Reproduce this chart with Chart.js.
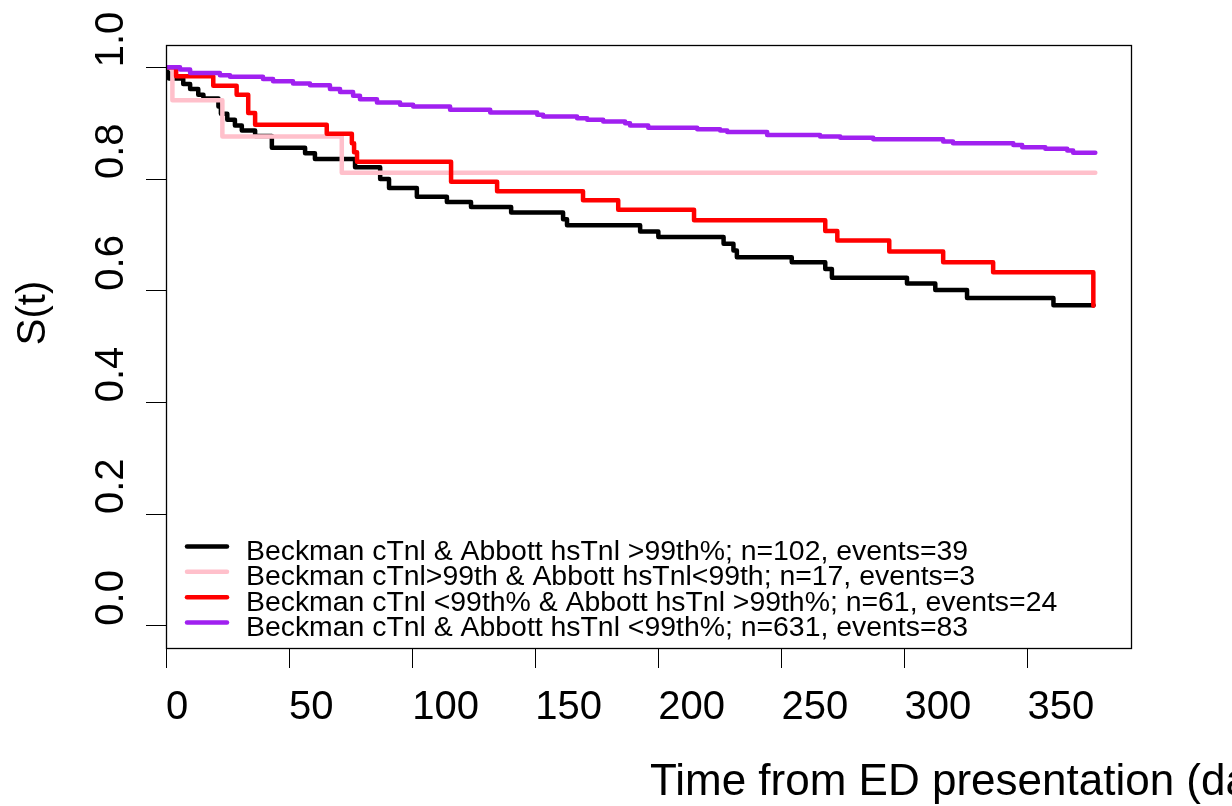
<!DOCTYPE html>
<html><head><meta charset="utf-8">
<script src="https://cdn.jsdelivr.net/npm/chart.js@4/dist/chart.umd.min.js"></script>
<style>html,body{margin:0;padding:0;background:#fff;overflow:hidden}canvas{display:block}</style>
</head><body>
<canvas id="c" width="1232" height="806"></canvas>
<script>
const FONT = '"Liberation Sans", Arial, Helvetica, sans-serif';

// Kaplan-Meier step data (time in days, survival S(t))
const blackT = [0, 0.5, 1.2, 7.0, 9.8, 13.1, 15.2, 21.3, 22.3, 24.9, 28.0, 30.8, 36.2, 43.0, 56.5, 60.5, 76.8, 87.0, 90.6, 101.9, 114.1, 123.9, 140.2, 161.3, 162.9, 192.6, 200.0, 226.5, 230.5, 231.9, 254.2, 267.8, 270.5, 301.0, 312.5, 325.4, 360.5, 376.8];
const blackS = [1.0, 0.990, 0.980, 0.970, 0.961, 0.951, 0.944, 0.930, 0.917, 0.906, 0.896, 0.887, 0.877, 0.856, 0.846, 0.836, 0.821, 0.800, 0.784, 0.768, 0.759, 0.750, 0.740, 0.728, 0.717, 0.706, 0.696, 0.684, 0.672, 0.660, 0.651, 0.639, 0.623, 0.613, 0.601, 0.587, 0.574, 0.574];

const pinkT = [0, 2.6, 22.9, 71.4, 377.5];
const pinkS = [1.0, 0.941, 0.876, 0.811, 0.811];

const redT = [0, 4.1, 19.2, 28.7, 33.4, 36.2, 65.3, 75.5, 76.4, 77.6, 115.8, 134.5, 169.4, 183.7, 214.5, 267.8, 272.7, 293.8, 315.7, 336.0, 376.7];
const redS = [1.0, 0.984, 0.967, 0.951, 0.918, 0.897, 0.881, 0.864, 0.848, 0.831, 0.795, 0.778, 0.762, 0.745, 0.726, 0.707, 0.690, 0.670, 0.651, 0.633, 0.573];

const purpleT = [0, 5.7, 9.8, 21.9, 26.0, 39.4, 43.5, 51.6, 58.5, 66.6, 70.7, 76.0, 78.8, 85.7, 95.1, 100.4, 115.4, 131.7, 150.8, 153.2, 167.0, 171.1, 177.6, 186.5, 188.5, 195.9, 215.8, 225.1, 228.0, 244.2, 265.7, 273.9, 287.3, 315.7, 319.7, 344.2, 347.8, 357.2, 366.1, 368.5, 377.5];
const purpleS = [1.0, 0.996, 0.990, 0.986, 0.983, 0.979, 0.975, 0.971, 0.968, 0.961, 0.956, 0.949, 0.943, 0.937, 0.933, 0.930, 0.924, 0.919, 0.915, 0.912, 0.909, 0.906, 0.903, 0.900, 0.896, 0.892, 0.889, 0.887, 0.884, 0.879, 0.876, 0.874, 0.871, 0.867, 0.864, 0.861, 0.857, 0.854, 0.851, 0.847, 0.847];

const xTicks = [0, 50, 100, 150, 200, 250, 300, 350];
const yTicks = [0, 0.2, 0.4, 0.6, 0.8, 1.0];
const yTickLabels = ['0.0', '0.2', '0.4', '0.6', '0.8', '1.0'];

const seriesNames = [
  'Beckman cTnl & Abbott hsTnl >99th%; n=102, events=39',
  'Beckman cTnl>99th & Abbott hsTnl<99th; n=17, events=3',
  'Beckman cTnl <99th% & Abbott hsTnl >99th%; n=61, events=24',
  'Beckman cTnl & Abbott hsTnl <99th%; n=631, events=83'
];
const seriesColors = ['#000000', '#FFC0CB', '#FF0000', '#A020F0'];
const xTitle = 'Time from ED presentation (days)';
const yTitle = 'S(t)';

function pts(t, s) { return t.map((v, i) => ({x: v, y: s[i]})); }
const seriesData = [pts(blackT, blackS), pts(pinkT, pinkS), pts(redT, redS), pts(purpleT, purpleS)];

const overlay = {
  id: 'overlay',
  afterDraw(chart) {
    const ctx = chart.ctx, a = chart.chartArea, ys = chart.scales.y;
    ctx.save();
    ctx.strokeStyle = '#000';
    ctx.lineWidth = 1.3;
    ctx.strokeRect(a.left + 0.5, a.top + 0.5, a.right - a.left, a.bottom - a.top);

    ctx.fillStyle = '#000';
    ctx.font = '40px ' + FONT;
    ctx.textAlign = 'left';
    ctx.textBaseline = 'alphabetic';
    yTicks.forEach((v, i) => {
      const py = ys.getPixelForValue(v);
      ctx.save();
      ctx.translate(a.left - 43, py);
      ctx.rotate(-Math.PI / 2);
      ctx.fillText(yTickLabels[i], 0, 0);
      ctx.restore();
    });

    ctx.save();
    ctx.translate(45, 313);
    ctx.rotate(-Math.PI / 2);
    ctx.textAlign = 'center';
    ctx.fillText(yTitle, 0, 0);
    ctx.restore();

    ctx.font = '44px ' + FONT;
    ctx.textAlign = 'left';
    ctx.fillText(xTitle, 650, 795);

    ctx.font = '28.4px ' + FONT;
    const baseY = a.top + 515, step = 25.33;
    seriesNames.forEach((name, i) => {
      const by = baseY + i * step;
      ctx.strokeStyle = seriesColors[i];
      ctx.lineWidth = 4.5;
      ctx.lineCap = 'round';
      ctx.beginPath();
      ctx.moveTo(a.left + 21, by - 13.5);
      ctx.lineTo(a.left + 61, by - 13.5);
      ctx.stroke();
      ctx.fillStyle = '#000';
      ctx.fillText(name, a.left + 80, by);
    });
    ctx.restore();
  }
};

const gridOpts = {display: true, drawOnChartArea: false, drawTicks: true, tickLength: 20, color: '#000', lineWidth: 1};

new Chart(document.getElementById('c'), {
  type: 'line',
  data: {
    datasets: seriesData.map((d, i) => ({
      label: seriesNames[i],
      data: d,
      borderColor: seriesColors[i],
      backgroundColor: seriesColors[i],
      borderWidth: 4.5,
      stepped: true,
      fill: false,
      pointRadius: 0,
      borderCapStyle: 'round',
      borderJoinStyle: 'round',
      order: 4 - i
    }))
  },
  options: {
    responsive: false,
    animation: false,
    devicePixelRatio: 1,
    layout: {padding: {left: 0, top: 45, right: 101, bottom: 0}},
    plugins: {legend: {display: false}, tooltip: {enabled: false}, title: {display: false}},
    scales: {
      x: {
        type: 'linear', min: 0, max: 392,
        afterBuildTicks: s => { s.ticks = xTicks.map(v => ({value: v})); },
        afterFit: s => { s.height = 158; },
        grid: gridOpts,
        border: {display: false},
        ticks: {align: 'start', padding: 16, color: '#000', font: {family: FONT, size: 40},
                maxRotation: 0, minRotation: 0, autoSkip: false, callback: v => String(v)}
      },
      y: {
        type: 'linear', min: -0.04, max: 1.04,
        afterBuildTicks: s => { s.ticks = yTicks.map(v => ({value: v})); },
        afterFit: s => { s.width = 166; },
        grid: gridOpts,
        border: {display: false},
        ticks: {display: false}
      }
    }
  },
  plugins: [overlay]
});
</script>
</body></html>
